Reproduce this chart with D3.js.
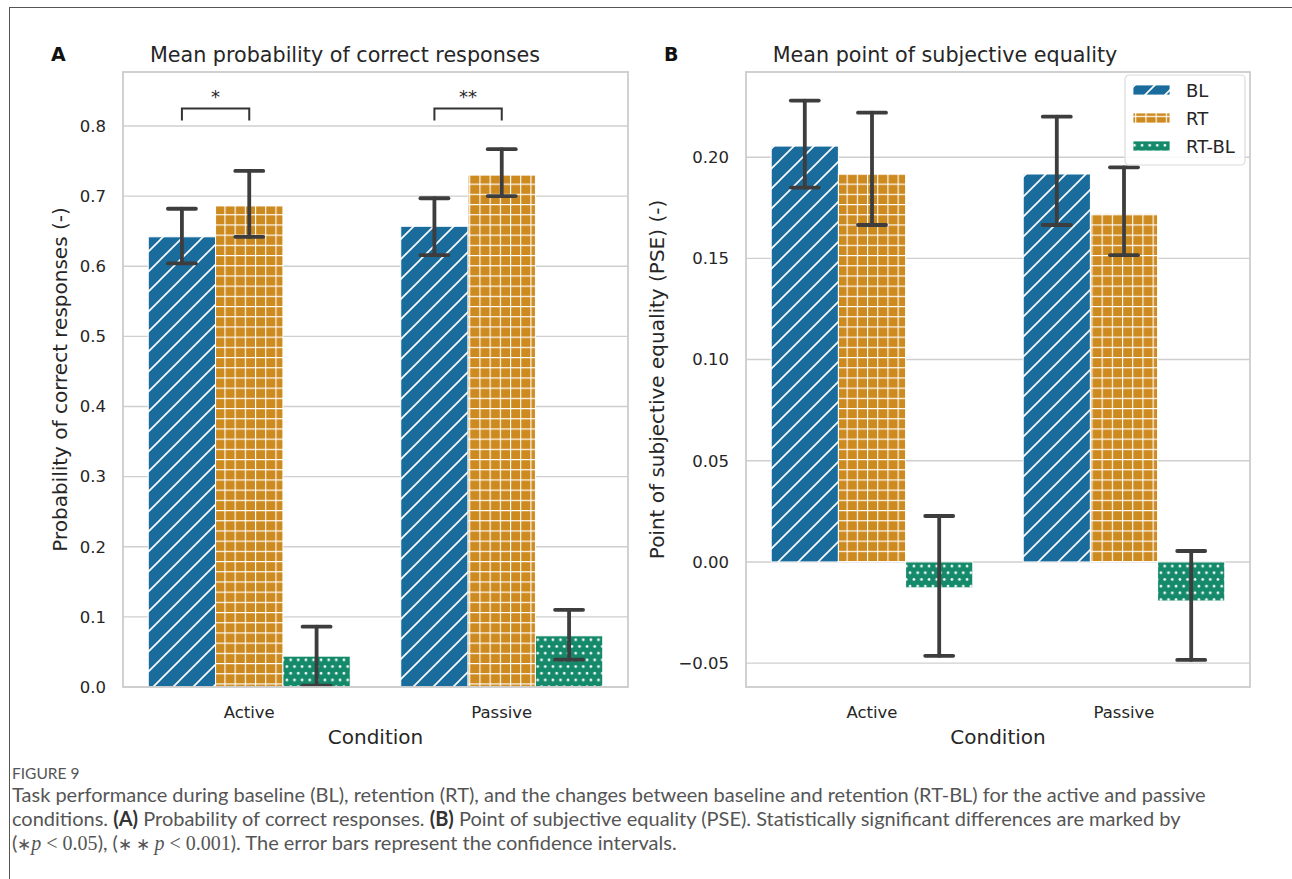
<!DOCTYPE html>
<html lang="en">
<head>
  <meta charset="UTF-8">
  <title>Figure 9</title>
  <script src="https://d3js.org/d3.v7.min.js"></script>
  <style>
    body { margin: 0; background: #fff; }
    svg text { font-family: "DejaVu Sans", sans-serif; }
    svg text.caption { font-family: Lato, "Open Sans", sans-serif; fill: #555; }
  </style>
</head>
<body>
<svg id="fig" width="1292" height="879"></svg>

<script>
  // Data
  const conditions = ["Active", "Passive"];
  const seriesNames = ["BL", "RT", "RT-BL"];
  const colors = ["#1a6c9c", "#cd8a1f", "#148a6a"];

  // panel A: mean probability of correct responses
  const probMean = { BL: [0.642, 0.657], RT: [0.686, 0.730], "RT-BL": [0.044, 0.073] };
  const probLow  = { BL: [0.604, 0.616], RT: [0.642, 0.700], "RT-BL": [0.002, 0.039] };
  const probHigh = { BL: [0.682, 0.697], RT: [0.736, 0.767], "RT-BL": [0.086, 0.110] };
  const probTicks = [0.0, 0.1, 0.2, 0.3, 0.4, 0.5, 0.6, 0.7, 0.8];
  const sigLabels = ["*", "**"];

  // panel B: mean point of subjective equality
  const pseMean = { BL: [0.2055, 0.1917], RT: [0.1917, 0.1720], "RT-BL": [-0.0128, -0.0193] };
  const pseLow  = { BL: [0.1850, 0.1665], RT: [0.1665, 0.1516], "RT-BL": [-0.0464, -0.0484] };
  const pseHigh = { BL: [0.2280, 0.2200], RT: [0.2220, 0.1950], "RT-BL": [0.0227, 0.0054] };
  const pseTicks = [-0.05, 0.00, 0.05, 0.10, 0.15, 0.20];

  const svg = d3.select("#fig");

  // outer figure frame
  svg.append("rect").attr("x", 9.5).attr("y", 7.5).attr("width", 1300).attr("height", 900)
    .attr("fill", "none").attr("stroke", "#555").attr("stroke-width", 1);

  // Hatch patterns
  const defs = svg.append("defs");
  const pBL = defs.append("pattern").attr("id", "hatch-BL").attr("patternUnits", "userSpaceOnUse")
    .attr("width", 20).attr("height", 20);
  pBL.append("rect").attr("width", 20).attr("height", 20).attr("fill", colors[0]);
  pBL.append("path").attr("d", "M-5,25 L25,-5 M-5,5 L5,-5 M15,25 L25,15")
    .attr("stroke", "#fff").attr("stroke-width", 1.6);

  const pRT = defs.append("pattern").attr("id", "hatch-RT").attr("patternUnits", "userSpaceOnUse")
    .attr("width", 10.2).attr("height", 10.2);
  pRT.append("rect").attr("width", 10.2).attr("height", 10.2).attr("fill", colors[1]);
  pRT.append("path").attr("d", "M0,0 L10.2,0 M0,0 L0,10.2")
    .attr("stroke", "#fff").attr("stroke-width", 2.2);

  const pRB = defs.append("pattern").attr("id", "hatch-RT-BL").attr("patternUnits", "userSpaceOnUse")
    .attr("width", 7.6).attr("height", 13.4);
  pRB.append("rect").attr("width", 7.6).attr("height", 13.4).attr("fill", colors[2]);
  [[1.9, 3.3], [5.7, 10.0]].forEach(([cx, cy]) => {
    pRB.append("circle").attr("cx", cx).attr("cy", cy).attr("r", 1.35).attr("fill", "#fff");
  });

  function drawPanel(opts) {
    const { left, right, top, bottom, domain, ticks, fmt, mean, low, high } = opts;
    const g = svg.append("g");

    const x = d3.scaleBand().domain(conditions).range([left, right]);
    const xs = d3.scaleBand().domain(seriesNames).range([0, x.bandwidth() * 0.8]);
    const y = d3.scaleLinear().domain(domain).range([bottom, top]);

    // grid
    g.selectAll(".grid").data(ticks).join("line")
      .attr("x1", left).attr("x2", right)
      .attr("y1", d => y(d)).attr("y2", d => y(d))
      .attr("stroke", "#cfcfcf").attr("stroke-width", 1.4);

    // bars
    seriesNames.forEach(s => {
      g.selectAll(".bar-" + s).data(conditions).join("rect")
        .attr("x", (c) => x(c) + x.bandwidth() * 0.1 + xs(s))
        .attr("width", xs.bandwidth())
        .attr("y", (c, i) => Math.min(y(mean[s][i]), y(0)))
        .attr("height", (c, i) => Math.abs(y(mean[s][i]) - y(0)))
        .attr("fill", "url(#hatch-" + s + ")")
        .attr("stroke", "#fff").attr("stroke-width", 1);
    });

    // error bars
    seriesNames.forEach(s => {
      conditions.forEach((c, i) => {
        const cx = x(c) + x.bandwidth() * 0.1 + xs(s) + xs.bandwidth() / 2;
        const eg = g.append("g").attr("stroke", "#3d3d3d").attr("stroke-width", 3.8)
          .attr("stroke-linecap", "round");
        eg.append("line").attr("x1", cx).attr("x2", cx)
          .attr("y1", y(low[s][i])).attr("y2", y(high[s][i]));
        [low[s][i], high[s][i]].forEach(v => {
          eg.append("line").attr("x1", cx - 14).attr("x2", cx + 14)
            .attr("y1", y(v)).attr("y2", y(v));
        });
      });
    });

    // frame
    g.append("rect").attr("x", left).attr("y", top)
      .attr("width", right - left).attr("height", bottom - top)
      .attr("fill", "none").attr("stroke", "#cccccc").attr("stroke-width", 1.8);

    // axes
    const ya = g.append("g").attr("transform", `translate(${left},0)`)
      .call(d3.axisLeft(y).tickValues(ticks).tickFormat(fmt).tickSize(0).tickPadding(17));
    ya.select(".domain").remove();
    ya.selectAll("text").attr("font-size", 16.5).attr("fill", "#262626");

    const xa = g.append("g").attr("transform", `translate(0,${bottom})`)
      .call(d3.axisBottom(x).tickSize(0).tickPadding(19));
    xa.select(".domain").remove();
    xa.selectAll("text").attr("font-size", 16.5).attr("fill", "#262626");

    g.append("text").attr("x", (left + right) / 2).attr("y", bottom + 57)
      .attr("text-anchor", "middle").attr("font-size", 20).attr("fill", "#262626")
      .text("Condition");

    g.append("text").attr("transform", `translate(${opts.ylabelX},${(top + bottom) / 2}) rotate(-90)`)
      .attr("text-anchor", "middle").attr("font-size", 20).attr("fill", "#262626")
      .text(opts.ylabel);

    g.append("text").attr("x", opts.titleX).attr("y", 62)
      .attr("text-anchor", "middle").attr("font-size", 20.7).attr("fill", "#262626")
      .text(opts.title);

    g.append("text").attr("x", opts.letterX).attr("y", 61)
      .attr("font-size", 19).attr("font-weight", "bold").attr("fill", "#111")
      .text(opts.letter);

    return { x, xs, y, g };
  }

  const fmt2 = d => d3.format(".2f")(d).replace("-", "\u2212");

  const A = drawPanel({
    left: 123, right: 628, top: 72, bottom: 687,
    domain: [0, 0.877], ticks: probTicks, fmt: d3.format(".1f"),
    mean: probMean, low: probLow, high: probHigh,
    ylabel: "Probability of correct responses (-)", ylabelX: 67,
    title: "Mean probability of correct responses", titleX: 345, letter: "A", letterX: 51
  });

  drawPanel({
    left: 746, right: 1250, top: 72, bottom: 687,
    domain: [-0.0618, 0.2421], ticks: pseTicks, fmt: fmt2,
    mean: pseMean, low: pseLow, high: pseHigh,
    ylabel: "Point of subjective equality (PSE) (-)", ylabelX: 664,
    title: "Mean point of subjective equality", titleX: 945, letter: "B", letterX: 664
  });

  // significance brackets in panel A
  conditions.forEach((c, i) => {
    const off = A.x(c) + A.x.bandwidth() * 0.1;
    const x1 = off + A.xs("BL") + A.xs.bandwidth() / 2;
    const x2 = off + A.xs("RT") + A.xs.bandwidth() / 2;
    const yb = A.y(0.825);
    A.g.append("path")
      .attr("d", `M${x1},${yb + 12} L${x1},${yb} L${x2},${yb} L${x2},${yb + 12}`)
      .attr("fill", "none").attr("stroke", "#333").attr("stroke-width", 2);
    A.g.append("text").attr("x", (x1 + x2) / 2).attr("y", yb - 5)
      .attr("text-anchor", "middle").attr("font-size", 18).attr("fill", "#262626")
      .text(sigLabels[i]);
  });

  // legend in panel B
  const lg = svg.append("g").attr("transform", "translate(1125,75)");
  lg.append("rect").attr("width", 120).attr("height", 90).attr("rx", 4)
    .attr("fill", "#fff").attr("fill-opacity", 0.85).attr("stroke", "#dcdcdc").attr("stroke-width", 1.2);
  seriesNames.forEach((s, i) => {
    lg.append("rect").attr("x", 8).attr("y", 10 + i * 28).attr("width", 37).attr("height", 10)
      .attr("fill", "url(#hatch-" + s + ")").attr("stroke", "#fff").attr("stroke-width", 0.8);
    lg.append("text").attr("x", 61).attr("y", 22 + i * 28).attr("font-size", 18)
      .attr("fill", "#262626").text(s);
  });

  // caption
  const cap = svg.append("g");
  cap.append("text").attr("class", "caption").attr("x", 12).attr("y", 779)
    .attr("font-size", 15.5).text("FIGURE 9");
  const fs = 20;
  const l1 = cap.append("text").attr("class", "caption").attr("x", 12).attr("y", 802).attr("font-size", fs);
  l1.text("Task performance during baseline (BL), retention (RT), and the changes between baseline and retention (RT-BL) for the active and passive");
  const l2 = cap.append("text").attr("class", "caption").attr("x", 12).attr("y", 826).attr("font-size", fs);
  l2.append("tspan").text("conditions. ");
  l2.append("tspan").attr("font-weight", "bold").style("fill", "#333").text("(A)");
  l2.append("tspan").text(" Probability of correct responses. ");
  l2.append("tspan").attr("font-weight", "bold").style("fill", "#333").text("(B)");
  l2.append("tspan").text(" Point of subjective equality (PSE). Statistically significant differences are marked by");
  const l3 = cap.append("text").attr("class", "caption").attr("x", 12).attr("y", 850).attr("font-size", fs);
  const serif = "Liberation Serif, serif";
  l3.append("tspan").text("(");
  l3.append("tspan").style("font-family", serif).attr("font-size", 17).text("\u2217");
  l3.append("tspan").style("font-family", serif).attr("font-style", "italic").text("p");
  l3.append("tspan").style("font-family", serif).text(" < 0.05");
  l3.append("tspan").text("), (");
  l3.append("tspan").style("font-family", serif).attr("font-size", 17).text("\u2217 \u2217 ");
  l3.append("tspan").style("font-family", serif).attr("font-style", "italic").text("p");
  l3.append("tspan").style("font-family", serif).text(" < 0.001");
  l3.append("tspan").text("). The error bars represent the confidence intervals.");
</script>
</body>
</html>
